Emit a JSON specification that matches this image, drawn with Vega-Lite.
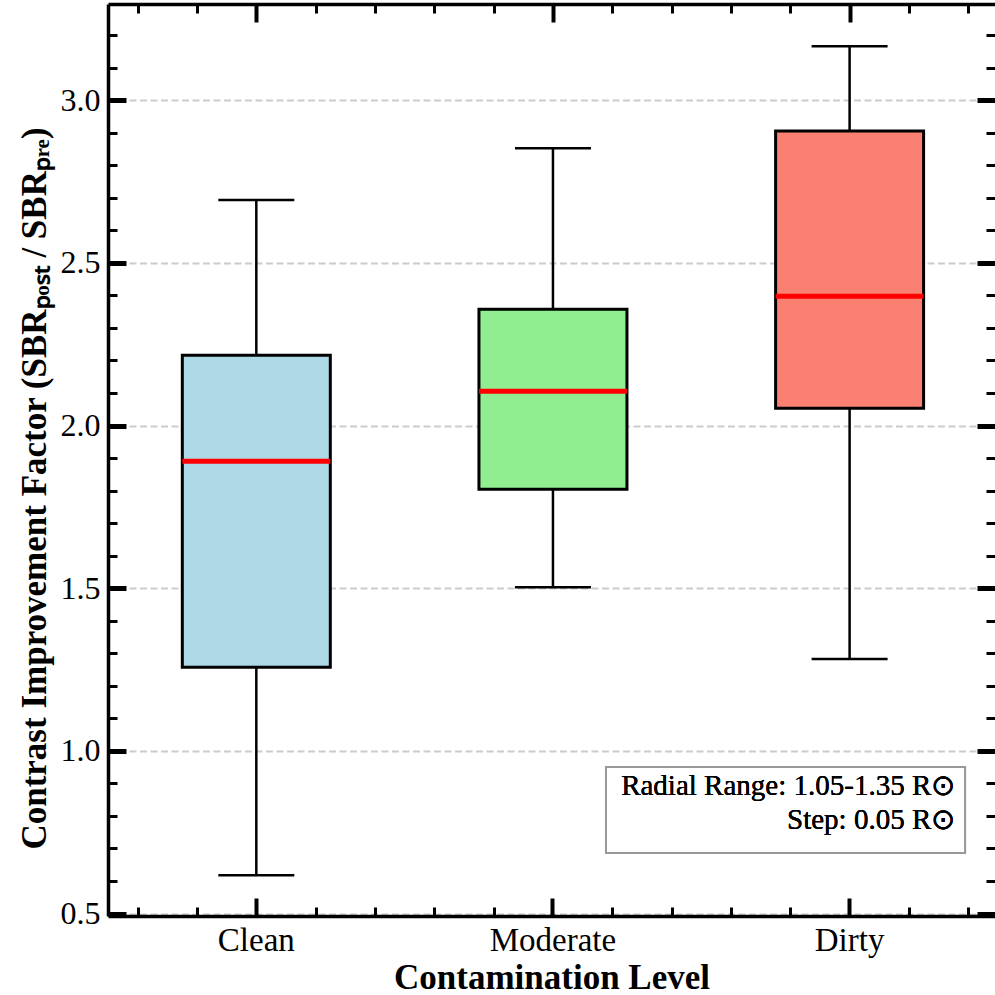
{
  "$schema": "https://vega.github.io/schema/vega-lite/v6.json",
  "width": 887,
  "height": 912,
  "autosize": {"type": "none"},
  "padding": {"left": 108, "top": 4, "right": 0, "bottom": 79},
  "background": "white",
  "config": {"view": {"stroke": null}, "font": "Liberation Serif"},
  "data": {"values": [
    {"level": "Clean", "lo": 0.618, "q1": 1.257, "median": 1.890, "q3": 2.216, "hi": 2.693},
    {"level": "Moderate", "lo": 1.503, "q1": 1.804, "median": 2.105, "q3": 2.357, "hi": 2.852},
    {"level": "Dirty", "lo": 1.282, "q1": 2.053, "median": 2.397, "q3": 2.905, "hi": 3.166}
  ]},
  "resolve": {"scale": {"x": "independent"}, "axis": {"x": "independent", "y": "independent"}},
  "layer": [
    {
      "layer": [
        {
          "mark": {"type": "rule", "color": "black", "strokeWidth": 2.5},
          "encoding": {
            "x": {"field": "level", "type": "nominal", "sort": ["Clean", "Moderate", "Dirty"],
              "scale": {"paddingInner": 0.5011, "paddingOuter": 0.2456, "align": 0.51},
              "axis": {"orient": "bottom", "title": "Contamination Level", "titleFont": "Liberation Serif", "titleFontSize": 35, "titleFontWeight": "bold", "titleColor": "black", "titlePadding": 3,
                "labelFont": "Liberation Serif", "labelFontSize": 33, "labelColor": "black", "labelAngle": 0, "labelPadding": 26,
                "tickSize": -18, "tickWidth": 4, "tickColor": "black", "domainColor": "black", "domainWidth": 3.5, "grid": false}},
            "y": {"field": "lo", "type": "quantitative",
              "scale": {"domain": [0.4925, 3.2955], "nice": false, "zero": false},
              "axis": {"orient": "left", "values": [0.5, 1, 1.5, 2, 2.5, 3], "format": ".1f",
                "title": "Contrast Improvement Factor (SBRₚₒₛₜ / SBRₚᵣₑ)", "titleFont": "Liberation Serif", "titleFontSize": 35, "titleFontWeight": "bold", "titleColor": "black", "titlePadding": 8, "titleY": 484,
                "labelFont": "Liberation Serif", "labelFontSize": 32, "labelColor": "black", "labelPadding": 26,
                "tickSize": -18, "tickWidth": 5, "tickColor": "black", "domainColor": "black", "domainWidth": 3.5,
                "grid": true, "gridColor": "#cccccc", "gridDash": [7, 3.5], "gridWidth": 2}},
            "y2": {"field": "hi"}
          }
        },
        {
          "mark": {"type": "bar", "stroke": "black", "strokeWidth": 3, "opacity": 1},
          "encoding": {
            "x": {"field": "level", "type": "nominal", "sort": ["Clean", "Moderate", "Dirty"]},
            "y": {"field": "q1", "type": "quantitative"},
            "y2": {"field": "q3"},
            "color": {"field": "level", "type": "nominal", "scale": {"domain": ["Clean", "Moderate", "Dirty"], "range": ["#ADD8E6", "#90EE90", "#FA8072"]}, "legend": null}
          }
        },
        {
          "mark": {"type": "tick", "color": "black", "thickness": 2.5, "size": 76, "opacity": 1},
          "encoding": {
            "x": {"field": "level", "type": "nominal", "sort": ["Clean", "Moderate", "Dirty"]},
            "y": {"field": "lo", "type": "quantitative"}
          }
        },
        {
          "mark": {"type": "tick", "color": "black", "thickness": 2.5, "size": 76, "opacity": 1},
          "encoding": {
            "x": {"field": "level", "type": "nominal", "sort": ["Clean", "Moderate", "Dirty"]},
            "y": {"field": "hi", "type": "quantitative"}
          }
        },
        {
          "mark": {"type": "tick", "color": "red", "thickness": 5, "size": 148, "opacity": 1},
          "encoding": {
            "x": {"field": "level", "type": "nominal", "sort": ["Clean", "Moderate", "Dirty"]},
            "y": {"field": "median", "type": "quantitative"}
          }
        }
      ]
    },
    {
      "mark": {"type": "point", "opacity": 0},
      "encoding": {
        "x": {"datum": 0, "type": "quantitative", "scale": {"domain": [-0.5, 2.49], "nice": false, "zero": false},
          "axis": {"orient": "bottom", "values": [-0.4, -0.2, 0.2, 0.4, 0.6, 0.8, 1.2, 1.4, 1.6, 1.8, 2.2, 2.4], "labels": false, "domain": false, "tickSize": -9, "tickWidth": 3, "tickColor": "black", "title": null, "grid": false}},
        "y": {"datum": 1, "type": "quantitative",
          "axis": {"orient": "left", "values": [0.6, 0.7, 0.8, 0.9, 1.1, 1.2, 1.3, 1.4, 1.6, 1.7, 1.8, 1.9, 2.1, 2.2, 2.3, 2.4, 2.6, 2.7, 2.8, 2.9, 3.1, 3.2], "labels": false, "domain": false, "tickSize": -9, "tickWidth": 3, "tickColor": "black", "title": null, "grid": false}}
      }
    },
    {
      "mark": {"type": "point", "opacity": 0},
      "encoding": {
        "x": {"datum": 0, "type": "quantitative", "scale": {"domain": [-0.5, 2.49], "nice": false, "zero": false},
          "axis": {"orient": "top", "values": [0, 1, 2], "labels": false, "domain": true, "domainColor": "black", "domainWidth": 3.5, "tickSize": -18, "tickWidth": 4, "tickColor": "black", "title": null, "grid": false}},
        "y": {"datum": 1, "type": "quantitative",
          "axis": {"orient": "right", "values": [0.5, 1, 1.5, 2, 2.5, 3], "labels": false, "domain": false, "tickSize": -18, "tickWidth": 5, "tickColor": "black", "title": null, "grid": false}}
      }
    },
    {
      "mark": {"type": "point", "opacity": 0},
      "encoding": {
        "x": {"datum": 0, "type": "quantitative", "scale": {"domain": [-0.5, 2.49], "nice": false, "zero": false},
          "axis": {"orient": "top", "values": [-0.4, -0.2, 0.2, 0.4, 0.6, 0.8, 1.2, 1.4, 1.6, 1.8, 2.2, 2.4], "labels": false, "domain": false, "tickSize": -9, "tickWidth": 3, "tickColor": "black", "title": null, "grid": false}},
        "y": {"datum": 1, "type": "quantitative",
          "axis": {"orient": "right", "values": [0.6, 0.7, 0.8, 0.9, 1.1, 1.2, 1.3, 1.4, 1.6, 1.7, 1.8, 1.9, 2.1, 2.2, 2.3, 2.4, 2.6, 2.7, 2.8, 2.9, 3.1, 3.2], "labels": false, "domain": false, "tickSize": -9, "tickWidth": 3, "tickColor": "black", "title": null, "grid": false}}
      }
    },
    {
      "mark": {"type": "rect", "fill": "white", "stroke": "#999999", "strokeWidth": 2},
      "encoding": {
        "x": {"datum": 1.1787, "type": "quantitative", "scale": {"domain": [-0.5, 2.49], "nice": false, "zero": false}, "axis": null},
        "x2": {"datum": 2.389},
        "y": {"datum": 0.9507, "type": "quantitative", "axis": null},
        "y2": {"datum": 0.6864}
      }
    },
    {
      "mark": {"type": "text", "text": "Radial Range: 1.05-1.35 R⊙", "align": "right", "baseline": "alphabetic", "font": "Liberation Serif", "fontSize": 29, "color": "black"},
      "encoding": {
        "x": {"datum": 2.356, "type": "quantitative", "scale": {"domain": [-0.5, 2.49], "nice": false, "zero": false}, "axis": null},
        "y": {"datum": 0.8647, "type": "quantitative", "axis": null}
      }
    },
    {
      "mark": {"type": "text", "text": "Step: 0.05 R⊙", "align": "right", "baseline": "alphabetic", "font": "Liberation Serif", "fontSize": 29, "color": "black"},
      "encoding": {
        "x": {"datum": 2.356, "type": "quantitative", "scale": {"domain": [-0.5, 2.49], "nice": false, "zero": false}, "axis": null},
        "y": {"datum": 0.7602, "type": "quantitative", "axis": null}
      }
    }
  ]
}
